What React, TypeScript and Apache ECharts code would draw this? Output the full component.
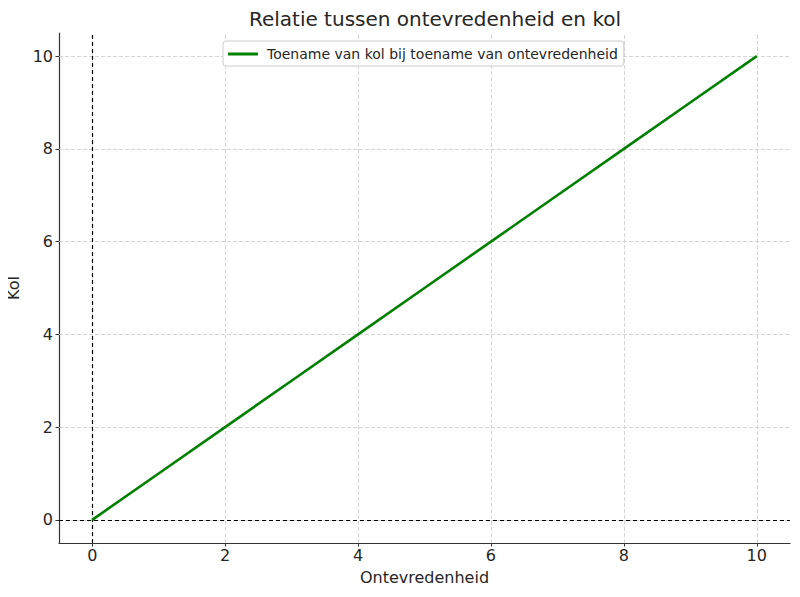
import React, { useEffect, useRef } from 'react';
import * as echarts from 'echarts';

// waarden uit de grafiek
const xValues = [0, 1, 2, 3, 4, 5, 6, 7, 8, 9, 10];
const kolValues = [0, 1, 2, 3, 4, 5, 6, 7, 8, 9, 10];
const xTicks = [0, 2, 4, 6, 8, 10];
const yTicks = [0, 2, 4, 6, 8, 10];

const FONT = 'DejaVu Sans';

const App = () => {
    const chartRef = useRef<HTMLDivElement>(null);

    useEffect(() => {
        if (!chartRef.current) return;
        const myChart = echarts.init(chartRef.current, null, { renderer: 'svg' });

        const gridStyle = { color: '#cccccc', type: [4, 2] as any, width: 0.8 };
        const zeroStyle = { color: '#000000', type: [4, 3] as any, width: 1.2 };

        const gridLines: any[] = [
            ...xTicks.map((v) => ({ xAxis: v, lineStyle: gridStyle })),
            ...yTicks.map((v) => ({ yAxis: v, lineStyle: gridStyle })),
        ];
        const zeroLines: any[] = [
            { xAxis: 0, lineStyle: zeroStyle },
            { yAxis: 0, lineStyle: zeroStyle },
        ];

        const option = {
            animation: false,
            title: {
                text: 'Relatie tussen ontevredenheid en kol',
                left: 430,
                textAlign: 'center',
                top: 4,
                textStyle: { fontFamily: FONT, fontSize: 20, fontWeight: 'normal', color: '#262626' },
            },
            legend: {
                left: 223,
                top: 41,
                data: ['Toename van kol bij toename van ontevredenheid'],
                icon: 'rect',
                itemWidth: 30,
                itemHeight: 3,
                itemGap: 10,
                padding: [6, 6, 5, 5],
                borderColor: '#cccccc',
                borderWidth: 1,
                borderRadius: 3,
                backgroundColor: '#ffffff',
                textStyle: { fontFamily: FONT, fontSize: 14, color: '#262626', padding: [0, 0, 0, 4] },
            },
            grid: { left: 59, right: 10, top: 33, bottom: 54, containLabel: false, outerBoundsMode: 'none' },
            xAxis: {
                type: 'value',
                min: -0.5,
                max: 10.5,
                name: 'Ontevredenheid',
                nameLocation: 'middle',
                nameGap: 26,
                nameTextStyle: { fontFamily: FONT, fontSize: 16, color: '#262626' },
                axisLine: { onZero: false, lineStyle: { color: '#333333', width: 1.2 } },
                axisTick: { show: true, customValues: xTicks, length: 3.5, lineStyle: { color: '#333333' } },
                splitLine: { show: false },
                axisLabel: {
                    customValues: xTicks,
                    fontFamily: FONT,
                    fontSize: 16,
                    color: '#262626',
                    margin: 4,
                },
            },
            yAxis: {
                type: 'value',
                min: -0.5,
                max: 10.5,
                name: 'Kol',
                nameLocation: 'middle',
                nameGap: 33,
                nameRotate: 90,
                nameTextStyle: { fontFamily: FONT, fontSize: 16, color: '#262626' },
                axisLine: { show: true, onZero: false, lineStyle: { color: '#333333', width: 1.2 } },
                axisTick: { show: true, customValues: yTicks, length: 3.5, lineStyle: { color: '#333333' } },
                splitLine: { show: false },
                axisLabel: {
                    customValues: yTicks,
                    fontFamily: FONT,
                    fontSize: 16,
                    color: '#262626',
                    margin: 6,
                },
            },
            series: [
                {
                    name: 'raster',
                    type: 'line',
                    data: [],
                    z: 1,
                    silent: true,
                    markLine: {
                        z: 1,
                        silent: true,
                        symbol: 'none',
                        label: { show: false },
                        data: gridLines,
                    },
                },
                {
                    name: 'nul',
                    type: 'line',
                    data: [],
                    z: 2,
                    silent: true,
                    markLine: {
                        z: 2,
                        silent: true,
                        symbol: 'none',
                        label: { show: false },
                        data: zeroLines,
                    },
                },
                {
                    name: 'Toename van kol bij toename van ontevredenheid',
                    type: 'line',
                    z: 3,
                    showSymbol: false,
                    symbol: 'none',
                    color: '#008000',
                    lineStyle: { color: '#008000', width: 2.6 },
                    data: xValues.map((x, i) => [x, kolValues[i]]),
                },
            ],
        };

        myChart.setOption(option as any);

        return () => {
            myChart.dispose();
        };
    }, []);

    return <div ref={chartRef} style={{ width: 800, height: 597, margin: -8 }}></div>;
};

export default App;
